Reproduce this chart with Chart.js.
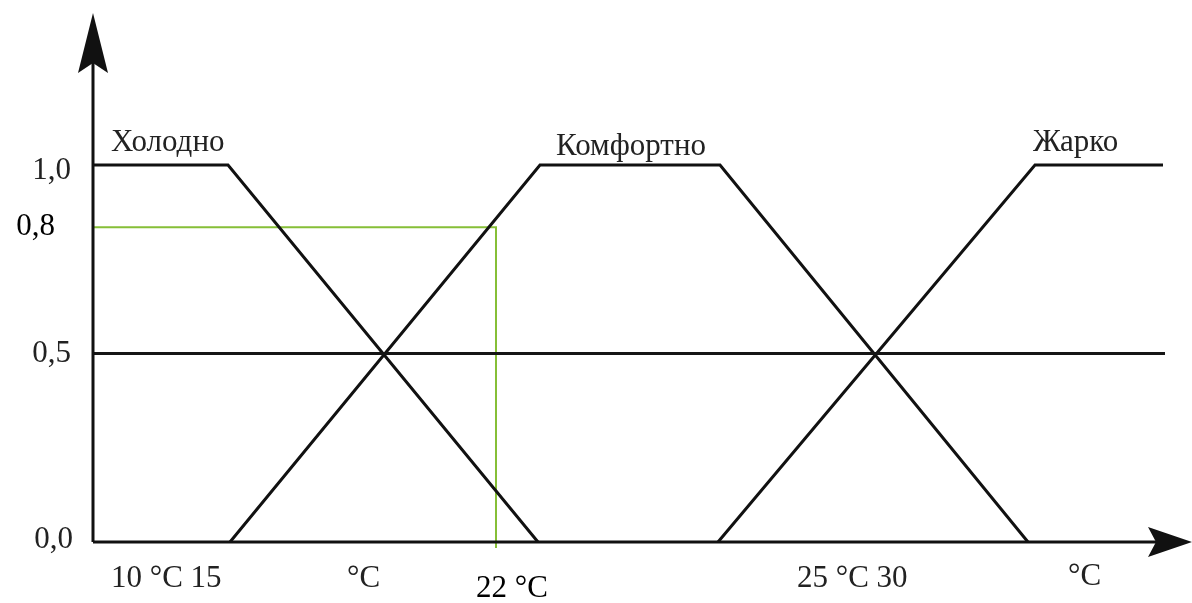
<!DOCTYPE html>
<html>
<head>
<meta charset="utf-8">
<script src="https://cdn.jsdelivr.net/npm/chart.js@4"></script>
<style>
  html, body { margin: 0; padding: 0; background: #fff; }
  #wrap { width: 1192px; height: 603px; }
</style>
</head>
<body>
<div id="wrap"><canvas id="fuzzy" width="1192" height="603"></canvas></div>
<script>
// membership functions (x in abstract temperature units, y = membership degree)
const coldX = [0, 13.5, 44.5];
const coldY = [1, 1, 0];
const comfortX = [13.7, 44.7, 62.7, 93.5];
const comfortY = [0, 1, 1, 0];
const hotX = [62.5, 94.2, 107];
const hotY = [0, 1, 1];
const halfX = [0, 107.2];
const halfY = [0.5, 0.5];
// 22 °C reading -> 0.8
const markX = [0, 40.3, 40.3];
const markY = [0.835, 0.835, -0.016];

const setNames = ['Холодно', 'Комфортно', 'Жарко'];
const yTickLabels = ['1,0', '0,8', '0,5', '0,0'];
const xTickLabels = ['10 °C 15', '°C', '22 °C', '25 °C 30', '°C'];

function pts(xs, ys) {
  return xs.map(function (x, i) { return { x: x, y: ys[i] }; });
}

function line(data, color, width) {
  return {
    data: data,
    showLine: true,
    borderColor: color,
    borderWidth: width,
    pointRadius: 0,
    fill: false,
    clip: false,
    tension: 0
  };
}

/*axes, arrows and all text*/
const decor = {
  id: 'decor',
  afterDatasetsDraw: function (chart) {
    const ctx = chart.ctx;
    const xs = chart.scales.x, ys = chart.scales.y;
    const px = function (v) { return xs.getPixelForValue(v); };
    const py = function (v) { return ys.getPixelForValue(v); };
    const x0 = px(0), y0 = py(0);
    const yTop = py(1.403), xEnd = px(109.9);

    ctx.save();
    ctx.strokeStyle = '#111';
    ctx.fillStyle = '#111';
    ctx.lineWidth = 3;
    ctx.beginPath();
    ctx.moveTo(x0, y0);
    ctx.lineTo(x0, yTop + 20);
    ctx.moveTo(x0, y0);
    ctx.lineTo(xEnd - 20, y0);
    ctx.stroke();

    // arrow heads
    ctx.beginPath();
    ctx.moveTo(x0, yTop);
    ctx.lineTo(x0 + 15, yTop + 60);
    ctx.lineTo(x0, yTop + 50);
    ctx.lineTo(x0 - 15, yTop + 60);
    ctx.closePath();
    ctx.fill();
    ctx.beginPath();
    ctx.moveTo(xEnd, y0);
    ctx.lineTo(xEnd - 44, y0 - 15);
    ctx.lineTo(xEnd - 36, y0);
    ctx.lineTo(xEnd - 44, y0 + 15);
    ctx.closePath();
    ctx.fill();

    ctx.textBaseline = 'middle';
    ctx.textAlign = 'left';

    // set names
    ctx.font = '31px "Liberation Serif", serif';
    ctx.fillStyle = '#222';
    ctx.fillText(setNames[0], 111, py(1.058));
    ctx.fillText(setNames[1], 556, py(1.049));
    ctx.fillText(setNames[2], 1033, py(1.058));

    // y tick labels
    ctx.font = '31px "Liberation Serif", serif';
    ctx.textAlign = 'right';
    ctx.fillStyle = '#222';
    ctx.fillText(yTickLabels[0], 71, py(0.985));
    ctx.fillStyle = '#000';
    ctx.fillText(yTickLabels[1], 55, py(markY[0]));
    ctx.fillStyle = '#222';
    ctx.fillText(yTickLabels[2], 71, py(0.5));
    ctx.fillText(yTickLabels[3], 73, py(0.005));

    // x tick labels
    ctx.textAlign = 'left';
    const below = py(-0.097);
    ctx.fillText(xTickLabels[0], 111, below);
    ctx.fillText(xTickLabels[1], 347, below);
    ctx.fillStyle = '#000';
    ctx.fillText(xTickLabels[2], 476, py(-0.125));
    ctx.fillStyle = '#222';
    ctx.fillText(xTickLabels[3], 797, below);
    ctx.fillText(xTickLabels[4], 1068, py(-0.092));
    ctx.restore();
  }
};

new Chart(document.getElementById('fuzzy'), {
  type: 'scatter',
  data: {
    datasets: [
      line(pts(halfX, halfY), '#151515', 3),
      line(pts(coldX, coldY), '#111', 3),
      line(pts(comfortX, comfortY), '#111', 3),
      line(pts(hotX, hotY), '#111', 3),
      line(pts(markX, markY), '#86bf37', 2)
    ]
  },
  options: {
    responsive: false,
    animation: false,
    events: [],
    layout: { padding: { left: 93, right: 0, top: 0, bottom: 0 } },
    plugins: {
      legend: { display: false },
      tooltip: { enabled: false }
    },
    scales: {
      x: { type: 'linear', display: false, min: 0, max: 109.9 },
      y: { type: 'linear', display: false, min: -0.1618, max: 1.4377 }
    }
  },
  plugins: [decor]
});
</script>
</body>
</html>
